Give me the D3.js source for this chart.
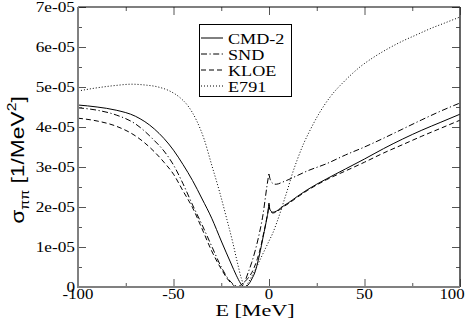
<!DOCTYPE html>
<html><head><meta charset="utf-8">
<script src="https://cdn.jsdelivr.net/npm/d3@7"></script>
<style>body{margin:0;background:#fff}svg{display:block}</style>
</head><body>
<script>
// ---- data (values in units of 1e-05 1/MeV^2) ----
const xTicks = [-100, -50, 0, 50, 100];
const xTickLabels = ["-100", "-50", "0", "50", "100"];
const yTicks = [0, 1, 2, 3, 4, 5, 6, 7];
const yTickLabels = ["0", "1e-05", "2e-05", "3e-05", "4e-05", "5e-05", "6e-05", "7e-05"];
const seriesNames = ["CMD-2", "SND", "KLOE", "E791"];

const cmdE = [-100,-90,-80,-70,-60,-50,-45,-40,-35,-30,-25,-20,-17,-15,-13,-11,-9,-7,-6,-5,-4,-3,-2,-1,-0.5,0,0.3,0.7,1.2,2,3,4,6,8,10,15,20,30,40,50,60,70,80,90,100];
const cmdV = [4.55,4.50,4.42,4.27,3.95,3.42,3.06,2.66,2.2,1.72,1.15,0.6,0.28,0.1,0,0.05,0.2,0.42,0.6,0.8,1.03,1.27,1.5,1.75,1.88,2.1,1.98,1.92,1.89,1.87,1.88,1.9,1.97,2.04,2.1,2.27,2.43,2.7,2.95,3.2,3.46,3.7,3.92,4.12,4.32];

const sndE = [-100,-90,-80,-70,-60,-55,-50,-45,-40,-35,-30,-25,-22,-19,-17,-15,-13,-11,-9,-7,-5,-4,-3,-2,-1,-0.5,0,0.3,0.7,1.2,2,3,4,6,8,10,15,20,30,40,50,60,70,80,90,100];
const sndV = [4.48,4.42,4.3,4.08,3.66,3.4,3.05,2.58,2.05,1.55,1.02,0.5,0.25,0.08,0.02,0,0.1,0.35,0.62,0.95,1.35,1.58,1.85,2.2,2.55,2.7,2.85,2.75,2.68,2.63,2.59,2.57,2.57,2.6,2.64,2.68,2.79,2.9,3.08,3.3,3.5,3.72,3.95,4.18,4.4,4.6];

const kloeE = [-100,-90,-80,-70,-60,-55,-50,-45,-40,-35,-30,-25,-22,-19,-17,-15,-13,-11,-9,-7,-6,-5,-4,-3,-2,-1,-0.5,0,0.3,0.7,1.2,2,3,4,6,8,10,15,20,30,40,50,60,70,80,90,100];
const kloeV = [4.22,4.15,4.02,3.78,3.38,3.12,2.82,2.4,1.98,1.45,0.9,0.45,0.22,0.06,0,0.04,0.12,0.22,0.36,0.58,0.72,0.88,1.07,1.3,1.52,1.76,1.9,2.05,1.95,1.9,1.87,1.85,1.86,1.88,1.95,2.02,2.08,2.25,2.41,2.68,2.9,3.12,3.35,3.56,3.77,3.97,4.17];

const e791E = [-100,-90,-80,-72,-65,-58,-52,-47,-42,-38,-34,-30,-26,-22,-19,-16.5,-14.5,-12.5,-11,-9,-7,-4.7,-2,0,2,4,6,8,10,12,14.7,18,21.5,26,32,40,47.6,55,62,70,77,85,92,100];
const e791V = [4.9,4.98,5.04,5.07,5.05,5.0,4.9,4.75,4.5,4.17,3.7,3.05,2.4,1.68,1.12,0.6,0.22,0,0.1,0.27,0.45,0.68,0.95,1.15,1.35,1.6,1.88,2.18,2.48,2.8,3.17,3.57,3.92,4.32,4.75,5.17,5.5,5.75,5.95,6.15,6.3,6.47,6.6,6.75];

const styles = ["none", "6,2.5,1.2,2.5", "5,3", "1,2"];
const seriesE = [cmdE, sndE, kloeE, e791E];
const seriesV = [cmdV, sndV, kloeV, e791V];

// ---- layout ----
const W = 474, H = 323;
const L = 78, R = 460, T = 7, B = 287;
const svg = d3.select("body").append("svg").attr("width", W).attr("height", H);
const x = d3.scaleLinear().domain([-100, 100]).range([L, R]);
const y = d3.scaleLinear().domain([0, 7]).range([B, T]);

function stretch(sel, f) {
  sel.each(function () {
    const n = this.getComputedTextLength();
    d3.select(this).attr("textLength", n * f).attr("lengthAdjust", "spacingAndGlyphs");
  });
}

// clip
svg.append("clipPath").attr("id", "clip").append("rect")
  .attr("x", L).attr("y", T).attr("width", R - L).attr("height", B - T);

// curves
const line = d3.line().curve(d3.curveMonotoneX);
const gCurves = svg.append("g").attr("clip-path", "url(#clip)");
seriesNames.forEach((name, i) => {
  const pts = seriesE[i].map((e, k) => [x(e), y(seriesV[i][k])]);
  gCurves.append("path").attr("d", line(pts))
    .attr("fill", "none").attr("stroke", "#000").attr("stroke-width", 1)
    .attr("stroke-dasharray", styles[i]);
});

// axes (ticks inward on all sides)
const xMinor = [-75, -25, 25, 75];
const yMinor = [0.5, 1.5, 2.5, 3.5, 4.5, 5.5, 6.5];
const tickCol = "#555";
const axB = d3.axisBottom(x).tickValues(xTicks).tickSize(-8).tickFormat("");
const axT = d3.axisTop(x).tickValues(xTicks).tickSize(-8).tickFormat("");
const axL = d3.axisLeft(y).tickValues(yTicks).tickSize(-8).tickFormat("");
const axR = d3.axisRight(y).tickValues(yTicks).tickSize(-8).tickFormat("");
const axBm = d3.axisBottom(x).tickValues(xMinor).tickSize(-4).tickFormat("");
const axTm = d3.axisTop(x).tickValues(xMinor).tickSize(-4).tickFormat("");
const axLm = d3.axisLeft(y).tickValues(yMinor).tickSize(-4).tickFormat("");
const axRm = d3.axisRight(y).tickValues(yMinor).tickSize(-4).tickFormat("");
[[axB, 0, B], [axT, 0, T], [axL, L, 0], [axR, R, 0], [axBm, 0, B], [axTm, 0, T], [axLm, L, 0], [axRm, R, 0]].forEach(([ax, tx, ty]) => {
  const g = svg.append("g").attr("transform", `translate(${tx},${ty})`).call(ax);
  g.select(".domain").remove();
  g.selectAll("line").attr("stroke", tickCol);
});

// frame
svg.append("line").attr("x1", L).attr("x2", R).attr("y1", T).attr("y2", T).attr("stroke", "#000").attr("stroke-width", 1.2);
svg.append("line").attr("x1", R).attr("x2", R).attr("y1", T).attr("y2", B).attr("stroke", "#333").attr("stroke-width", 1.5);
svg.append("line").attr("x1", L).attr("x2", L).attr("y1", T).attr("y2", B + 1).attr("stroke", "#808080").attr("stroke-width", 2);
svg.append("line").attr("x1", L).attr("x2", R).attr("y1", B).attr("y2", B).attr("stroke", "#808080").attr("stroke-width", 2);

// tick labels
const serif = "'Liberation Serif', 'Times New Roman', serif";
const yl = svg.append("g").selectAll("text").data(yTicks).join("text")
  .attr("x", 75).attr("y", d => y(d)).attr("dy", "0.35em")
  .attr("text-anchor", "end").attr("font-family", serif).attr("font-size", 15)
  .text((d, i) => yTickLabels[i]);
stretch(yl, 1.15);
const xl = svg.append("g").selectAll("text").data(xTicks).join("text")
  .attr("x", d => x(d) - (d === 100 ? 8 : 0)).attr("y", 299)
  .attr("text-anchor", "middle").attr("font-family", serif).attr("font-size", 15)
  .text((d, i) => xTickLabels[i]);
stretch(xl, 1.12);

// axis titles
const xt = svg.append("text").attr("x", 255).attr("y", 316)
  .attr("text-anchor", "middle").attr("font-family", serif).attr("font-size", 17)
  .text("E [MeV]");
stretch(xt, 1.3);

const yt = svg.append("text").attr("transform", "translate(24,160) rotate(-90)")
  .attr("text-anchor", "middle").attr("font-family", "'Liberation Sans', Arial, sans-serif").attr("font-size", 19);
yt.append("tspan").text("σ");
yt.append("tspan").attr("font-size", 12).attr("dy", 5).text("ππ");
yt.append("tspan").attr("dy", -5).text(" [1/MeV");
yt.append("tspan").attr("font-size", 13).attr("dy", -8).text("2");
yt.append("tspan").attr("dy", 8).text("]");
stretch(yt, 1.2);

// legend
const lg = svg.append("g");
lg.append("rect").attr("x", 199.5).attr("y", 24.5).attr("width", 92).attr("height", 72)
  .attr("fill", "#fff").attr("stroke", "#000").attr("stroke-width", 1);
seriesNames.forEach((name, i) => {
  const cy = 38 + i * 16;
  lg.append("line").attr("x1", 201).attr("x2", 223).attr("y1", cy).attr("y2", cy)
    .attr("stroke", "#000").attr("stroke-width", 1).attr("stroke-dasharray", styles[i]);
  const t = lg.append("text").attr("x", 228).attr("y", cy + 5.5)
    .attr("font-family", serif).attr("font-size", 15.5).text(name);
  stretch(t, 1.17);
});
</script>
</body></html>
